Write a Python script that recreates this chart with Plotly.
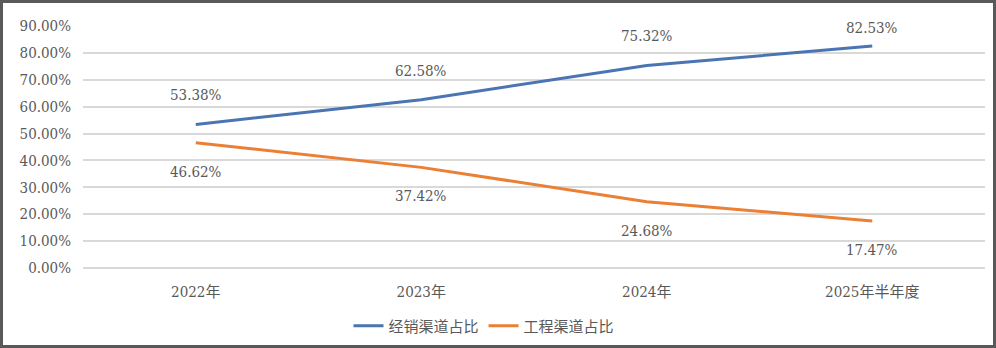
import plotly.graph_objects as go

categories = ["2022年", "2023年", "2024年", "2025年半年度"]
dealer_share = [53.38, 62.58, 75.32, 82.53]
project_share = [46.62, 37.42, 24.68, 17.47]
series_names = ["经销渠道占比", "工程渠道占比"]
y_ticks = [0, 10, 20, 30, 40, 50, 60, 70, 80, 90]

BLUE = "#4a75b2"
ORANGE = "#eb7f35"
TXT = "#595959"
FONT = "DejaVu Serif Condensed, DejaVu Serif, Noto Sans CJK SC"
FS = 15

W, H = 996, 348
L, R, T, B = 83, 11, 26, 80
pw, ph = W - L - R, H - T - B

fig = go.Figure()
fig.add_trace(go.Scatter(x=categories, y=dealer_share, mode="lines", name=series_names[0],
                         line=dict(color=BLUE, width=3)))
fig.add_trace(go.Scatter(x=categories, y=project_share, mode="lines", name=series_names[1],
                         line=dict(color=ORANGE, width=3)))

blue_shift = [29, 29, 29, 18]
for c, v, s in zip(categories, dealer_share, blue_shift):
    fig.add_annotation(x=c, y=v, text=f"{v:.2f}%", showarrow=False, yshift=s,
                       font=dict(family=FONT, size=FS, color=TXT))
for c, v in zip(categories, project_share):
    fig.add_annotation(x=c, y=v, text=f"{v:.2f}%", showarrow=False, yshift=-29,
                       font=dict(family=FONT, size=FS, color=TXT))

def px_x(p):
    return (p - L) / pw
def px_y(p):
    return (T + ph - p) / ph

fig.add_shape(type="rect", xref="paper", yref="paper",
              x0=px_x(1.5), x1=px_x(W - 1.5), y0=px_y(H - 1.5), y1=px_y(1.5),
              line=dict(color="#595959", width=3), fillcolor="rgba(0,0,0,0)", layer="above")

fig.update_layout(
    width=W, height=H,
    margin=dict(l=L, r=R, t=T, b=B, autoexpand=False),
    paper_bgcolor="white", plot_bgcolor="white",
    font=dict(family=FONT, size=FS, color=TXT),
    showlegend=True,
    legend=dict(orientation="h", xref="container", x=484 / W, xanchor="center",
                yref="container", y=1 - 326 / H, yanchor="middle",
                font=dict(family=FONT, size=FS, color=TXT), tracegroupgap=0),
    xaxis=dict(type="category", range=[-0.5, 3.5], showgrid=False, showline=False, zeroline=False,
               automargin=False,
               ticks="outside", ticklen=10, tickcolor="rgba(0,0,0,0)",
               tickfont=dict(family=FONT, size=FS, color=TXT)),
    yaxis=dict(range=[0, 90], tickvals=y_ticks, ticktext=[f"{v:.2f}%" for v in y_ticks],
               automargin=False,
               showgrid=True, gridcolor="#d9d9d9", gridwidth=1.5, zeroline=True,
               zerolinecolor="#d9d9d9", zerolinewidth=1.5, showline=False,
               ticks="outside", ticklen=8, tickcolor="rgba(0,0,0,0)",
               tickfont=dict(family=FONT, size=FS, color=TXT)),
)

fig.write_html("out.html")
